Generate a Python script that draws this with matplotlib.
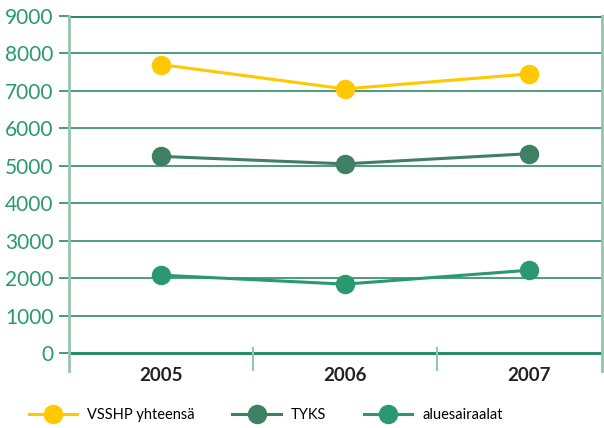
import numpy as np
import matplotlib.pyplot as plt
from matplotlib.lines import Line2D

# Data
years = ['2005', '2006', '2007']
vsshp = [7700, 7050, 7450]
tyks = [5250, 5050, 5320]
alue = [2080, 1840, 2210]
yticks = [0, 1000, 2000, 3000, 4000, 5000, 6000, 7000, 8000, 9000]

c_yellow = '#FFC800'
c_tyks = '#3F7F63'
c_alue = '#2A9970'
c_grid = '#2E8B6A'
c_spine = '#93C6AD'

fig = plt.figure(figsize=(6.04, 4.28), dpi=100)
ax = fig.add_axes([0.114, 0.133, 0.883, 0.830])

x = np.arange(len(years))

# grid lines (drawn by hand so they stop at the data range)
for v in yticks:
    lw = 2.2 if v in (0, 9000) else 1.2
    ax.axhline(v, color=c_grid, lw=lw, zorder=1)

for vals, col in [(vsshp, c_yellow), (tyks, c_tyks), (alue, c_alue)]:
    ax.plot(x, vals, color=col, lw=2.2, marker='o', ms=13, zorder=3)

# category dividers
ax.vlines([0.5, 1.5], -480, 150, color=c_spine, lw=1.5, zorder=2)

ax.set_xlim(-0.5, 2.4)
ax.set_ylim(-480, 9000)

ax.set_yticks(yticks)
ax.set_yticklabels([str(v) for v in yticks], color=c_alue,
                   fontsize=15, family='Lato')
ax.tick_params(axis='y', length=7, width=1.2, color=c_grid, pad=4)
ax.set_xticks(x)
ax.set_xticklabels(years, fontsize=13.5, family='Lato', fontweight='bold',
                   color='#222222')
ax.tick_params(axis='x', length=0, pad=-3)

for s in ['top', 'bottom']:
    ax.spines[s].set_visible(False)
for s in ['left', 'right']:
    ax.spines[s].set_color(c_spine)
    ax.spines[s].set_linewidth(2)

handles = [
    Line2D([], [], color=c_yellow, lw=2.2, marker='o', ms=13),
    Line2D([], [], color=c_tyks, lw=2.2, marker='o', ms=13),
    Line2D([], [], color=c_alue, lw=2.2, marker='o', ms=13),
]
labels = ['VSSHP yhteensä', 'TYKS', 'aluesairaalat']
fig.legend(handles, labels, loc='center', bbox_to_anchor=(0.44, 0.03),
           ncol=3, frameon=False, handlelength=3.3, handletextpad=0.7,
           columnspacing=2.6, prop={'family': 'Lato', 'size': 10.5})

plt.savefig('out.png', dpi=100)
